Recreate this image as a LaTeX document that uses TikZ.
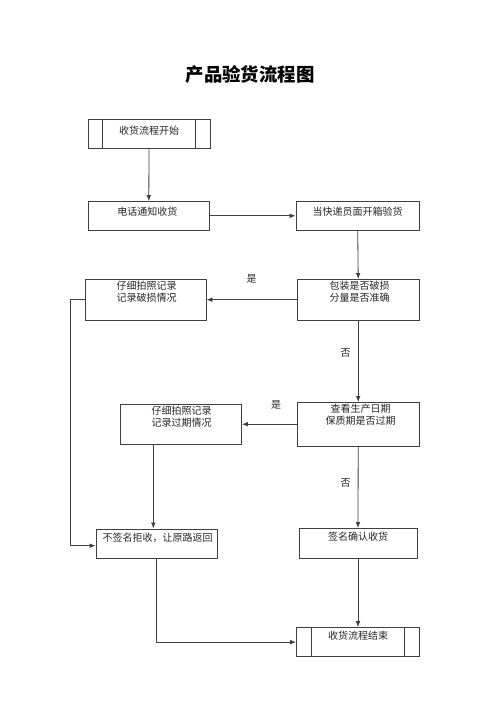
\documentclass[tikz,border=0pt]{standalone}
\usepackage{fontspec}
\setmainfont{Noto Sans CJK SC}
\newfontfamily\cjk{Noto Sans CJK SC}
\usetikzlibrary{arrows.meta,calc}
\tikzset{
  x=0.75pt, y=-0.75pt,
  box/.style={draw=black!75, line width=0.6pt, rectangle, inner sep=0pt},
  txt/.style={font=\cjk\fontsize{7.5pt}{8.8pt}\selectfont, align=center, inner sep=0pt, text=black!85},
  lab/.style={font=\cjk\fontsize{7.5pt}{8.8pt}\selectfont, inner sep=0pt, text=black!85},
  conn/.style={draw=black!75, line width=0.6pt},
  arr/.style={conn, -{Latex[length=4.5pt,width=3.5pt]}},
}
\begin{document}
\begin{tikzpicture}
\useasboundingbox (0,0) rectangle (500,707);
\fill[white] (0,0) rectangle (500,707);
% title
\node[font=\cjk\bfseries\fontsize{13.8pt}{15pt}\selectfont, inner sep=0pt] (title) at (250,75) {产品验货流程图};
% boxes
\node[box, minimum width=122*0.75pt, minimum height=29*0.75pt] (b1) at (149,133.5) {};
\node[box, minimum width=121.5*0.75pt, minimum height=28.5*0.75pt] (b2) at (148.8,215.8) {};
\node[box, minimum width=123.5*0.75pt, minimum height=28.5*0.75pt] (b3) at (357.7,215.8) {};
\node[box, minimum width=121*0.75pt, minimum height=40.5*0.75pt] (b4) at (145.5,299.7) {};
\node[box, minimum width=121.5*0.75pt, minimum height=40.5*0.75pt] (b5) at (358.2,299.7) {};
\node[box, minimum width=121*0.75pt, minimum height=40.5*0.75pt] (b6) at (181,424.2) {};
\node[box, minimum width=121.5*0.75pt, minimum height=43.5*0.75pt] (b7) at (358.2,424.2) {};
\node[box, minimum width=121.5*0.75pt, minimum height=29.5*0.75pt] (b8) at (156.7,543.7) {};
\node[box, minimum width=118*0.75pt, minimum height=29.5*0.75pt] (b9) at (358,543.2) {};
\node[box, minimum width=123*0.75pt, minimum height=29*0.75pt] (b10) at (358,642.1) {};
% inner bars of process boxes
\draw[conn] ($(b1.north west)+(15,0)$) -- ($(b1.south west)+(15,0)$);
\draw[conn] ($(b1.north east)+(-15,0)$) -- ($(b1.south east)+(-15,0)$);
\draw[conn] ($(b10.north west)+(15.6,0)$) -- ($(b10.south west)+(15.6,0)$);
\draw[conn] ($(b10.north east)+(-16,0)$) -- ($(b10.south east)+(-16,0)$);
% texts
\node[txt] (t1) at ($(b1.north)+(0,11.7)$) {收货流程开始};
\node[txt] (t2) at ($(b2.north)+(-1.5,10.8)$) {电话通知收货};
\node[txt] (t3) at ($(b3.north)+(0,10.5)$) {当快递员面开箱验货};
\node[txt] (t4) at ($(b4.north)+(1,12.5)$) {仔细拍照记录\\记录破损情况};
\node[txt] (t5) at ($(b5.north)+(1.5,12.5)$) {包装是否破损\\分量是否准确};
\node[txt] (t6) at ($(b6.north)+(0.5,13.5)$) {仔细拍照记录\\记录过期情况};
\node[txt] (t7) at ($(b7.north)+(2.5,12.5)$) {查看生产日期\\保质期是否过期};
\node[txt] (t8) at ($(b8.north)+(1,9.3)$) {不签名拒收，让原路返回};
\node[txt] (t9) at ($(b9.north)+(0,8.4)$) {签名确认收货};
\node[txt] (t10) at ($(b10.north)+(0,8.5)$) {收货流程结束};
% labels
\node[lab] (y1) at (251.7,279.3) {是};
\node[lab] (n1) at (345.7,353.3) {否};
\node[lab] (y2) at (276,405) {是};
\node[lab] (n2) at (345.7,482.7) {否};
% connectors
\coordinate (lx) at (70,299.7);
\coordinate (c8) at ($(b8.north)+(-3.4,0)$);
\coordinate (c8w) at ($(b8.west)+(0,2)$);
\draw[arr] (b1.south) -- (b2.north);
\draw[arr] (b2.east) -- (b3.west);
\draw[arr] (b3.south) -- (b5.north);
\draw[arr] (b5.west) -- (b4.east);
\draw[arr] (b5.south) -- (b7.north);
\draw[arr] (b7.west) -- (b7.west -| b6.east);
\draw[arr] (b7.south) -- (b9.north);
\draw[arr] (b9.south) -- (b10.north);
\draw[arr] (c8 |- b6.south) -- (c8);
\draw[arr] (b4.west) -- (lx) |- (c8w);
\draw[arr] (b8.south) |- (b10.west);
\end{tikzpicture}
\end{document}
